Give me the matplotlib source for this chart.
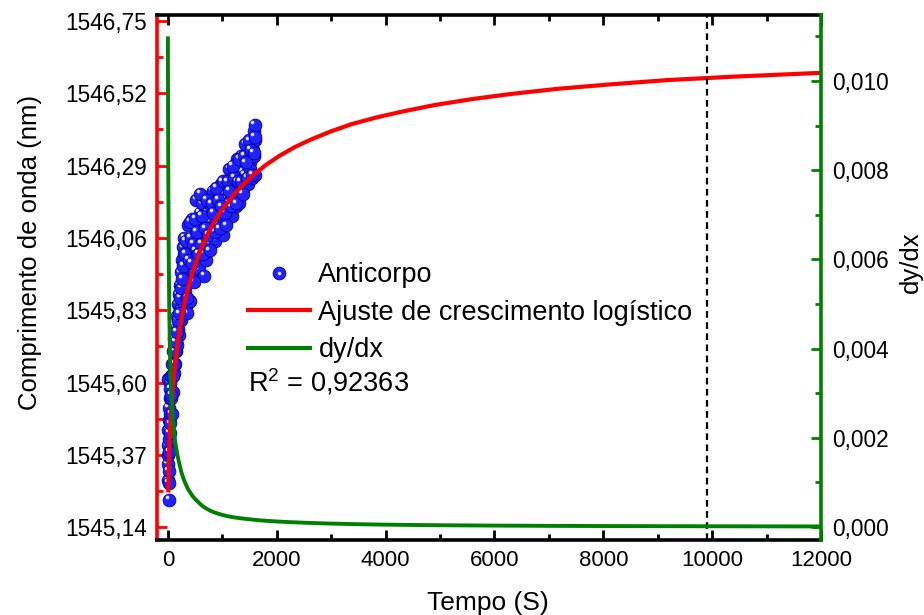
import matplotlib
matplotlib.use("Agg")
import matplotlib.pyplot as plt
import matplotlib.transforms as mtransforms
from matplotlib.ticker import AutoMinorLocator
from matplotlib.lines import Line2D
from matplotlib.legend_handler import HandlerTuple

plt.rcParams['font.family'] = ['Liberation Sans', 'DejaVu Sans']
plt.rcParams['mathtext.fontset'] = 'custom'
plt.rcParams['mathtext.rm'] = 'Liberation Sans'

# measured points (Anticorpo)
tempo = [0, 2, 4, 6, 8, 10, 12, 14, 16, 18,
         22, 25, 28, 30, 33, 36, 40, 44, 48, 52, 56,
         60, 70, 80, 90, 100, 110, 120, 130, 140, 150,
         160, 170, 180, 190, 200, 210, 220, 230, 240, 250,
         260, 270, 280, 290, 300,
         315, 330, 345, 358, 360, 375, 390, 405, 420, 435, 450,
         465, 480, 495, 510, 525, 540, 555, 570, 585, 600,
         615, 630, 645, 660, 670, 675, 690, 705, 720, 735, 750,
         765, 780, 795, 810, 825, 840, 855, 870, 885, 900,
         915, 930, 945, 960, 975, 990, 1005, 1020, 1035, 1050,
         1065, 1080, 1095, 1110, 1125, 1140, 1155, 1170, 1185, 1200,
         1215, 1230, 1245, 1260, 1275, 1290, 1305, 1320, 1335, 1350,
         1365, 1380, 1395, 1410, 1425, 1440, 1455, 1470, 1485, 1500,
         1515, 1530, 1545, 1560, 1575, 1590, 1595, 1600, 1605]
comprimento = [1545.34, 1545.40, 1545.61, 1545.29, 1545.37, 1545.45, 1545.32, 1545.52, 1545.42, 1545.28,
               1545.48, 1545.38, 1545.226, 1545.55, 1545.44, 1545.60, 1545.50, 1545.58, 1545.47, 1545.62, 1545.55,
               1545.62, 1545.50, 1545.66, 1545.57, 1545.70, 1545.63, 1545.74, 1545.66, 1545.77, 1545.70,
               1545.81, 1545.72, 1545.85, 1545.77, 1545.88, 1545.75, 1545.91, 1545.83, 1545.95, 1545.80,
               1545.99, 1545.88, 1546.03, 1545.84, 1546.06,
               1545.89, 1546.05, 1545.85, 1545.82, 1546.00, 1546.10, 1545.98, 1545.86, 1546.06, 1545.95, 1546.12,
               1546.04, 1545.95, 1546.12, 1546.02, 1546.18, 1545.99, 1546.10, 1545.96, 1546.14, 1546.08,
               1546.04, 1546.17, 1546.00, 1546.11, 1545.94, 1546.19, 1546.08, 1545.99, 1546.14, 1546.05, 1546.18,
               1546.11, 1546.04, 1546.16, 1546.09, 1546.21, 1546.07, 1546.15, 1546.05, 1546.17, 1546.14,
               1546.10, 1546.20, 1546.08, 1546.17, 1546.23, 1546.15, 1546.07, 1546.20, 1546.12, 1546.24,
               1546.18, 1546.12, 1546.23, 1546.17, 1546.28, 1546.15, 1546.22, 1546.13, 1546.25, 1546.21,
               1546.18, 1546.28, 1546.16, 1546.25, 1546.31, 1546.23, 1546.17, 1546.28, 1546.22, 1546.32,
               1546.27, 1546.22, 1546.32, 1546.26, 1546.36, 1546.24, 1546.31, 1546.23, 1546.33, 1546.30,
               1546.28, 1546.36, 1546.25, 1546.34, 1546.40, 1546.32, 1546.42, 1546.26, 1546.37]

# second run of measured points, in between the first
tempo_b = [65, 85, 105, 125, 145, 165, 185, 205, 225, 245, 265, 285, 295,
           322, 352, 382, 412, 442, 472, 502, 532, 562, 592, 622, 652, 682, 712,
           742, 772, 802, 832, 862, 892, 922, 952, 982, 1012, 1042, 1072, 1102,
           1132, 1162, 1192, 1222, 1252, 1282, 1312, 1342, 1372, 1402, 1432,
           1462, 1492, 1522, 1552, 1582, 1592]
comprimento_b = [1545.56, 1545.62, 1545.66, 1545.70, 1545.73, 1545.76, 1545.80, 1545.82, 1545.87,
                 1545.90, 1545.93, 1545.97, 1546.01,
                 1546.01, 1545.87, 1545.99, 1546.11, 1545.98, 1545.92, 1546.12, 1546.08, 1546.01,
                 1546.20, 1546.13, 1546.01, 1546.09, 1546.18, 1546.07, 1546.02, 1546.17, 1546.14,
                 1546.08, 1546.22, 1546.18, 1546.09, 1546.16, 1546.24, 1546.14, 1546.10, 1546.24,
                 1546.21, 1546.16, 1546.29, 1546.25, 1546.17, 1546.24, 1546.31, 1546.24, 1546.20,
                 1546.32, 1546.30, 1546.25, 1546.37, 1546.34, 1546.26, 1546.33, 1546.38]

# logistic fit curve
fit_x = [8, 15, 25, 35, 50, 74, 90, 116, 148, 191, 245, 314, 403, 457, 518, 587, 665,
         754, 854, 968, 1097, 1242, 1408, 1596, 1808, 2049, 2322, 2630, 2981, 3378,
         3828, 4338, 4915, 5570, 6311, 7150, 8103, 9180, 10405, 11200, 12000]
fit_y = [1545.25, 1545.32, 1545.39, 1545.44, 1545.49, 1545.54, 1545.578, 1545.628,
         1545.683, 1545.739, 1545.798, 1545.859, 1545.92, 1545.951, 1545.983, 1546.014,
         1546.047, 1546.079, 1546.111, 1546.143, 1546.173, 1546.204, 1546.234, 1546.264,
         1546.293, 1546.321, 1546.348, 1546.373, 1546.398, 1546.422, 1546.443, 1546.463,
         1546.483, 1546.501, 1546.518, 1546.534, 1546.548, 1546.562, 1546.573, 1546.579,
         1546.585]

# derivative of the fit
deriv_x = [0, 3, 8, 15, 25, 40, 60, 80, 100, 130, 160, 200, 250, 300, 370, 450, 500, 550,
           600, 650, 700, 750, 800, 850, 925, 1000, 1100, 1200, 1300, 1400, 1550, 1700,
           1850, 2000, 2250, 2500, 2750, 3000, 3500, 4000, 4500, 5000, 6000, 7000, 8000,
           9000, 10000, 11000, 12000]
deriv_y = [0.0110, 0.0095, 0.0078, 0.0062, 0.0049, 0.0038, 0.0030, 0.0026, 0.0023,
           0.00195, 0.00172, 0.00147, 0.00122, 0.00104, 0.00085, 0.00070, 0.00063, 0.00057,
           0.00051, 0.00046, 0.00042, 0.000385, 0.000355, 0.00033, 0.0003, 0.000272,
           0.000243, 0.00022, 0.000203, 0.000188, 0.000168, 0.00015, 0.000137, 0.000125,
           0.00011, 0.000098, 0.000087, 0.000078, 0.000064, 0.000054, 0.000047, 0.000041,
           0.000033, 0.000027, 0.000023, 0.00002, 0.000018, 0.000016, 0.000014]

x_ticks = [0, 2000, 4000, 6000, 8000, 10000, 12000]
left_ticks = [1545.14, 1545.37, 1545.60, 1545.83, 1546.06, 1546.29, 1546.52, 1546.75]
left_tick_labels = ['1545,14', '1545,37', '1545,60', '1545,83', '1546,06', '1546,29', '1546,52', '1546,75']
right_ticks = [0.000, 0.002, 0.004, 0.006, 0.008, 0.010]
right_tick_labels = ['0,000', '0,002', '0,004', '0,006', '0,008', '0,010']
marker_x = 9900
r2_text = r'R$^{\mathrm{2}}$ = 0,92363'

RED = '#ff0000'
GREEN = '#008000'
BLUE = '#2222ff'

fig = plt.figure(figsize=(9.24, 6.15), dpi=100)
ax = fig.add_axes([157 / 924, 1 - 540 / 615, 664 / 924, 525 / 615])
ax2 = ax.twinx()

# balls with a small highlight
hl = ax.transData + mtransforms.ScaledTranslation(-0.025, 0.028, fig.dpi_scale_trans)
for t, w in zip(tempo + tempo_b, comprimento + comprimento_b):
    ax.plot([t], [w], 'o', ms=9.2, mfc=BLUE, mec='#0000a0', mew=0.6, zorder=2)
    ax.plot([t], [w], 'o', ms=2.6, mfc='#dfe2ff', mec='none', zorder=2, transform=hl)

ax.plot(fit_x, fit_y, color=RED, lw=3, zorder=3, solid_capstyle='butt')
ax.axvline(marker_x, color='black', lw=1.6, ls=(0, (3, 2)), zorder=4)
ax2.plot(deriv_x, deriv_y, color=GREEN, lw=2.8, solid_capstyle='butt')

ax.set_xlim(-200, 12000)
ax.set_ylim(1545.099, 1546.769)
ax2.set_ylim(-0.00029, 0.01148)

ax.set_xticks(x_ticks)
ax.set_xticklabels([str(v) for v in x_ticks])
ax.set_yticks(left_ticks)
ax.set_yticklabels(left_tick_labels)
ax2.set_yticks(right_ticks)
ax2.set_yticklabels(right_tick_labels)
ax.xaxis.set_minor_locator(AutoMinorLocator(2))
ax.yaxis.set_minor_locator(AutoMinorLocator(2))
ax2.yaxis.set_minor_locator(AutoMinorLocator(2))

sw = 2.6
for s in ['top', 'bottom']:
    ax.spines[s].set_linewidth(sw)
ax.spines['left'].set_color(RED)
ax.spines['left'].set_linewidth(sw)
ax.spines['right'].set_visible(False)
for s in ['left', 'top', 'bottom']:
    ax2.spines[s].set_visible(False)
ax2.spines['right'].set_color(GREEN)
ax2.spines['right'].set_linewidth(sw)

ax.tick_params(axis='x', which='both', direction='in', top=True, width=2, labelsize=16, pad=7)
ax.tick_params(axis='x', which='major', length=7)
ax.tick_params(axis='x', which='minor', length=4)
ax.tick_params(axis='y', which='both', direction='in', color=RED, width=2, labelsize=16.3, pad=7)
ax.tick_params(axis='y', which='major', length=7)
ax.tick_params(axis='y', which='minor', length=4)
ax2.tick_params(axis='y', which='both', direction='in', color=GREEN, width=2, labelsize=16.3, pad=8)
ax2.tick_params(axis='y', which='major', length=7)
ax2.tick_params(axis='y', which='minor', length=4)

fig.text(30 / 924, 1 - 252 / 615, 'Comprimento de onda (nm)', rotation=90, ha='center', va='center', fontsize=18.5)
fig.text(911 / 924, 1 - 262 / 615, 'dy/dx', rotation=90, ha='center', va='center', fontsize=18.5)
fig.text(488 / 924, 1 - 603 / 615, 'Tempo (S)', ha='center', va='center', fontsize=19)

ball = Line2D([], [], ls='none', marker='o', ms=9.2, mfc=BLUE, mec='#0000a0', mew=0.6)
shine = Line2D([], [], ls='none', marker='o', ms=2.6, mfc='#dfe2ff', mec='none')
red_h = Line2D([], [], color=RED, lw=3)
green_h = Line2D([], [], color=GREEN, lw=3)
ax.legend([(ball, shine), red_h, green_h],
          ['Anticorpo', 'Ajuste de crescimento logístico', 'dy/dx'],
          handler_map={tuple: HandlerTuple(ndivide=1)},
          loc='upper left', bbox_to_anchor=(0.137, 0.529), frameon=False,
          fontsize=19.5, handlelength=2.3, handletextpad=0.3, labelspacing=0.42,
          borderpad=0, borderaxespad=0)
ax.text(0.137, 0.301, r2_text, transform=ax.transAxes, ha='left', va='center', fontsize=19.5)

fig.savefig('out.png', dpi=100)
